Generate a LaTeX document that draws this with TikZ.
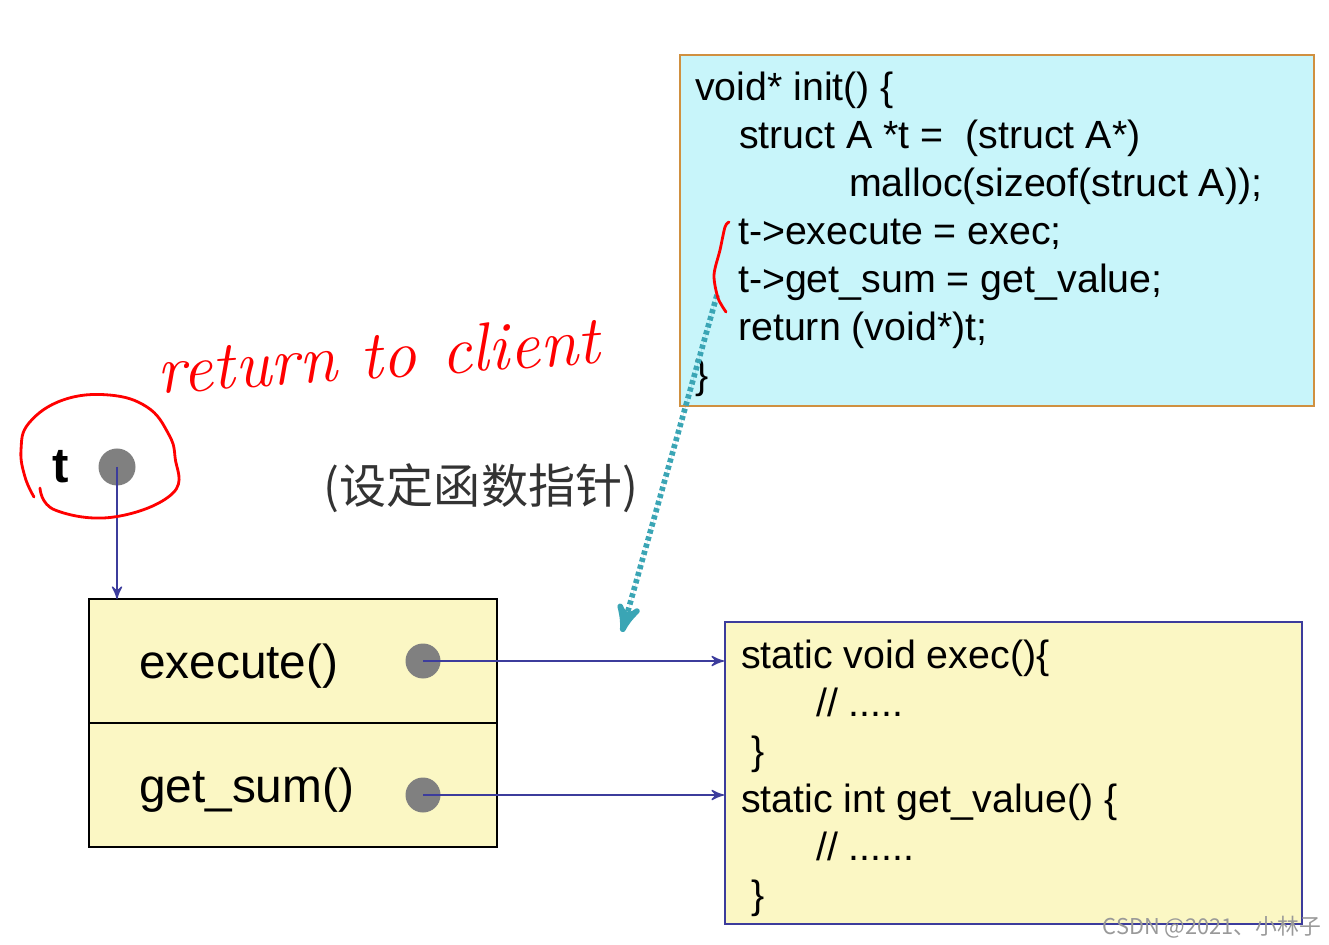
\documentclass[tikz,border=0pt]{standalone}
\usepackage{fontspec}
\newfontfamily\codefont{Liberation Sans}
\newfontfamily\cjkfont{Noto Sans CJK SC}
\usetikzlibrary{arrows,positioning}

\definecolor{initfill}{HTML}{C8F5FA}
\definecolor{initline}{HTML}{D09040}
\definecolor{memfill}{HTML}{FBF7C4}
\definecolor{ptrblue}{HTML}{3C3C9C}
\definecolor{hintteal}{HTML}{3AA5B5}
\definecolor{dotgray}{HTML}{808080}

\begin{document}
\begin{tikzpicture}[>=stealth', semithick,
    cell/.style={draw=black, fill=memfill, minimum width=4.08cm, minimum height=1.24cm, inner sep=0pt, outer sep=0pt},
    celltext/.style={font=\codefont\fontsize{13.6}{16}\selectfont, inner sep=0pt},
    codetext/.style={font=\codefont\fontsize{11.2}{13.66}\selectfont, align=left, inner sep=0pt},
    ptrdot/.style={circle, fill=dotgray, minimum size=0.35cm, inner sep=0pt},
    ptr/.style={->, draw=ptrblue, thin},
    scribble/.style={draw=red, thick, line cap=round, line join=round}]
  \useasboundingbox (0,0) rectangle (13.29,-9.45);

  % init() and its code
  \node[draw=initline, fill=initfill, minimum width=6.34cm, minimum height=3.51cm,
        anchor=north west, inner sep=0pt] (init) at (6.79,-0.54) {};
  \node[codetext, anchor=north west] (initcode) at ([shift={(0.15,-0.17)}]init.north west)
    {void* init() \{\\
     \hspace*{0.44cm}struct A *t =\ \ (struct A*)\\
     \hspace*{1.54cm}malloc(sizeof(struct A));\\
     \hspace*{0.43cm}t->execute = exec;\\
     \hspace*{0.43cm}t->get\_sum = get\_value;\\
     \hspace*{0.43cm}return (void*)t;\\
     \}};

  % the two functions
  \node[draw=ptrblue, fill=memfill, minimum width=5.77cm, minimum height=3.02cm,
        anchor=north west, inner sep=0pt] (funcs) at (7.24,-6.21) {};
  \node[codetext, anchor=north west] (funccode) at ([shift={(0.16,-0.18)}]funcs.north west)
    {static void exec()\{\\
     \hspace*{0.75cm}// .....\\
     \hspace*{0.1cm}\}\\
     static int get\_value() \{\\
     \hspace*{0.75cm}// ......\\
     \hspace*{0.1cm}\}};

  % struct A
  \node[cell] (execcell) at (2.93,-6.61) {};
  \node[cell, below=0pt of execcell] (sumcell) {};
  \node[celltext, anchor=west] (execname) at ([shift={(0.49,-0.05)}]execcell.west) {execute()};
  \node[celltext, anchor=west] (sumname) at ([shift={(0.49,-0.05)}]sumcell.west) {get\_sum()};
  \node[ptrdot] (execdot) at ([xshift=-0.74cm]execcell.east) {};
  \node[ptrdot] (sumdot) at ([shift={(-0.74,-0.1)}]sumcell.east) {};

  % pointer t
  \node[ptrdot, minimum size=0.37cm] (tdot) at (1.17,-4.67) {};
  \node[font=\codefont\bfseries\fontsize{14}{16}\selectfont, inner sep=0pt, left=0.28cm of tdot] (tname) {t};

  \draw[ptr] (tdot.center) -- (tdot.center |- execcell.north);
  \draw[ptr] (execdot.center) -- (execdot.center -| funcs.west);
  \draw[ptr] (sumdot.center) -- (sumdot.center -| funcs.west);

  \node[font=\cjkfont\fontsize{13.4}{15}\selectfont, text=black!80] (hint) at (4.81,-4.88) {(设定函数指针)};

  \coordinate (hintstart) at (7.17,-2.95);
  \coordinate (hinttip) at (6.22,-6.32);
  \draw[->, draw=hintteal, fill=hintteal, line width=1.6pt, dash pattern=on 1.2pt off 0.9pt] (hintstart) -- (hinttip);

  % red notes
  \node[text=red, rotate=4, font=\itshape\fontsize{19.5}{22}\selectfont] (note) at (3.78,-3.55) {return to client};
  \draw[scribble] plot[smooth, tension=0.7] coordinates {(0.40,-4.88) (0.55,-5.10) (1.14,-5.17)
    (1.73,-4.93) (1.75,-4.57) (1.68,-4.33) (1.47,-4.07) (1.09,-3.95) (0.63,-4.00) (0.29,-4.23)
    (0.21,-4.50) (0.25,-4.77) (0.34,-4.97)};
  \draw[scribble] plot[smooth] coordinates {(7.29,-2.22) (7.25,-2.27) (7.20,-2.50) (7.14,-2.75)
    (7.18,-2.98) (7.26,-3.12)};

  \node[font=\cjkfont\fontsize{6.2}{8}\selectfont, text=black!40] (mark) at (12.12,-9.27) {CSDN @2021、小林子};
\end{tikzpicture}
\end{document}
